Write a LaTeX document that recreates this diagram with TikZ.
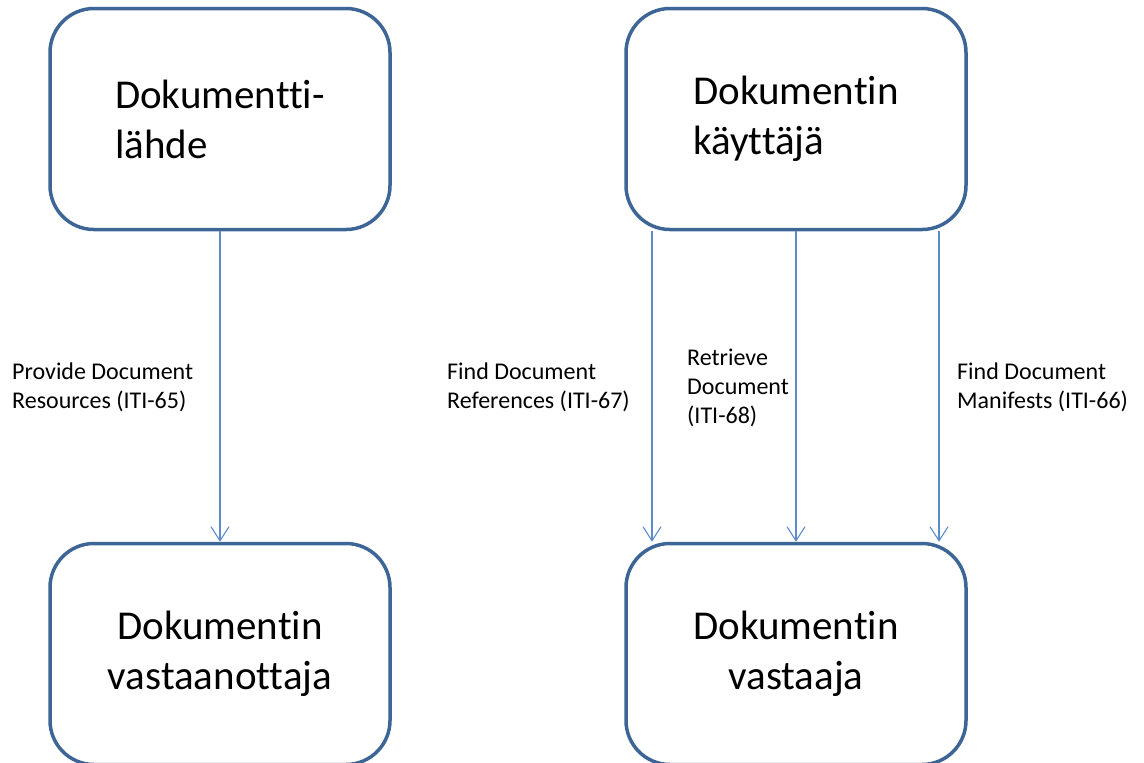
\documentclass[tikz,border=0pt]{standalone}
\usepackage{fontspec}
\setmainfont{Carlito}[Ligatures=NoCommon]
\usetikzlibrary{arrows.meta}
\definecolor{boxblue}{HTML}{3D6596}
\definecolor{linkblue}{HTML}{5B8BC9}
\begin{document}
\begin{tikzpicture}[x=1pt,y=-1pt,
  party/.style={draw=boxblue, line width=3.5pt, rounded corners=44pt,
    minimum width=340pt, minimum height=221pt, inner sep=0pt,
    font=\fontsize{41}{50}\selectfont},
  conn/.style={draw=linkblue, line width=1.1pt,
    -{Straight Barb[length=14pt,width=18pt,line width=1.1pt]}},
  lbl/.style={anchor=base west, align=left, inner sep=0pt,
    font=\fontsize{24}{29}\selectfont}]
\useasboundingbox (0,0) rectangle (1144,763);
% actors
\node[party, align=left]   (src)  at (220,119) {Dokumentti-\\lähde};
\node[party, align=left]   (cons) at (796,119) {Dokumentin\\käyttäjä};
\node[party, align=center] (recp) at (220,654) {Dokumentin\\vastaanottaja};
\node[party, align=center] (resp) at (796,654) {Dokumentin\\vastaaja};
% transactions
\draw[conn] (src.south) -- (recp.north);
\draw[conn] ([xshift=-144pt]cons.south) -- ([xshift=-144pt]resp.north);
\draw[conn] (cons.south) -- (resp.north);
\draw[conn] ([xshift=143pt]cons.south) -- ([xshift=143pt]resp.north);
% transaction labels (anchored at the baseline of their last line)
\node[lbl] (l65) at (12,408)  {Provide Document\\Resources (ITI-65)};
\node[lbl] (l67) at (447,408) {Find Document\\References (ITI-67)};
\node[lbl] (l68) at (687,423) {Retrieve\\Document\\(ITI-68)};
\node[lbl] (l66) at (957,408) {Find Document\\Manifests (ITI-66)};
\end{tikzpicture}
\end{document}
